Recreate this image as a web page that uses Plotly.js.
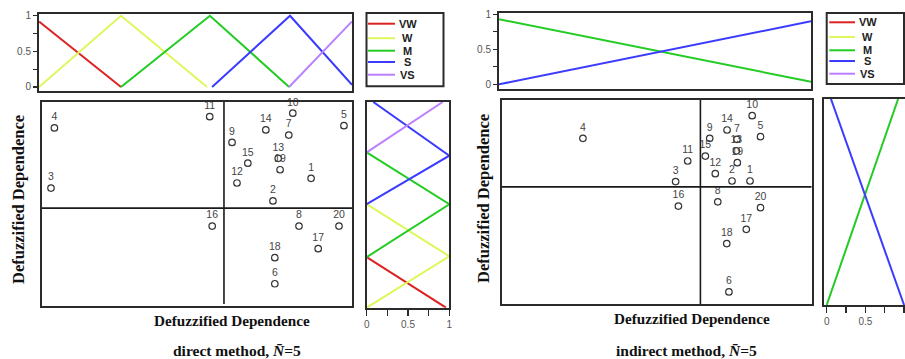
<!DOCTYPE html>
<html>
<head>
<meta charset="utf-8">
<script src="https://cdn.plot.ly/plotly-3.0.1.min.js"></script>
<style>html,body{margin:0;padding:0;background:#fff;}#chart{width:905px;height:359px;}</style>
</head>
<body>
<div id="chart"></div>
<script>
// ---------- DATA ----------
const termNames = ['VW', 'W', 'M', 'S', 'VS'];
const factorLabels = ['1','2','3','4','5','6','7','8','9','10','11','12','13','14','15','16','17','18','19','20'];

// direct method: membership functions along the horizontal (x) axis
const directXPos = [[0, 0.262], [0, 0.262, 0.537], [0.262, 0.546, 0.799], [0.553, 0.802, 1], [0.799, 1]];
const directXMem = [[0.92, 0], [0, 1, 0], [0, 1, 0], [0, 1, 0.03], [0, 0.92]];
// direct method: membership functions along the vertical (y) axis
const directYPos = [[0, 0.246], [0, 0.25, 0.504], [0.246, 0.503, 0.755], [0.504, 0.739, 1], [0.755, 1]];
const directYMem = [[0.96, 0], [0, 1, 0], [0, 1, 0], [0, 1, 0.08], [0, 0.92]];

// indirect method
const indirectXPos = [[], [], [0, 1], [0, 1], []];
const indirectXMem = [[], [], [0.93, 0.037], [0, 0.90], []];
const indirectYPos = [[], [], [0, 1], [1, 0], []];
const indirectYMem = [[], [], [0, 0.923], [0.055, 1], []];

// defuzzified scatter values (factors 1..20)
const directX = [0.868,0.745,0.029,0.040,0.974,0.751,0.796,0.829,0.613,0.809,0.541,0.629,0.762,0.722,0.664,0.549,0.891,0.751,0.768,0.958];
const directY = [0.626,0.515,0.578,0.873,0.884,0.109,0.838,0.392,0.802,0.945,0.928,0.603,0.724,0.863,0.700,0.392,0.281,0.237,0.668,0.392];
const indirectX = [0.801,0.743,0.561,0.262,0.835,0.733,0.759,0.697,0.671,0.808,0.600,0.689,0.757,0.727,0.657,0.570,0.789,0.726,0.760,0.835];
const indirectY = [0.603,0.603,0.600,0.812,0.820,0.059,0.807,0.501,0.812,0.923,0.701,0.639,0.751,0.853,0.725,0.480,0.366,0.296,0.693,0.472];

const directCutX = 0.587, directCutY = 0.480;
const indirectCutX = 0.641, indirectCutY = 0.574;

const memTicks = [0, 0.25, 0.5, 0.75, 1];
const memTickText = ['0', '', '0.5', '', '1'];

// ---------- STYLE / LAYOUT ----------
const termColors = ['#dd2222', '#ddf75c', '#22cc22', '#3b3bff', '#bb80ff'];
const W = 905, H = 359;
const PX = v => v / W;
const PY = v => 1 - v / H;
const dom = (a, b) => [PX(a), Math.min(1, PX(b))];
const vdom = (top, bottom) => [PY(bottom), PY(top)];
const frameCol = '#2b2b2b';
const sans = 'Liberation Sans, Arial, sans-serif';
const serif = 'Liberation Serif, Times New Roman, serif';

const traces = [];
function memTraces(posArr, memArr, xa, ya, vertical) {
  for (let i = 0; i < termNames.length; i++) {
    if (!posArr[i].length) continue;
    traces.push({
      type: 'scatter', mode: 'lines',
      x: vertical ? memArr[i] : posArr[i],
      y: vertical ? posArr[i] : memArr[i],
      xaxis: xa, yaxis: ya, name: termNames[i],
      line: { color: termColors[i], width: 2 },
      showlegend: false, hoverinfo: 'skip', cliponaxis: true
    });
  }
}
memTraces(directXPos, directXMem, 'x', 'y', false);
memTraces(directYPos, directYMem, 'x3', 'y3', true);
memTraces(indirectXPos, indirectXMem, 'x4', 'y4', false);
memTraces(indirectYPos, indirectYMem, 'x6', 'y6', true);

function scatterTrace(xs, ys, xa, ya) {
  traces.push({
    type: 'scatter', mode: 'markers+text',
    x: xs, y: ys, text: factorLabels, textposition: 'top center',
    textfont: { family: sans, size: 10.5, color: '#444' },
    marker: { symbol: 'circle-open', size: 6.5, color: '#333', line: { width: 1.2, color: '#333' } },
    xaxis: xa, yaxis: ya, showlegend: false, cliponaxis: false
  });
}
scatterTrace(directX, directY, 'x2', 'y2');
scatterTrace(indirectX, indirectY, 'x5', 'y5');

const frameAxis = extra => Object.assign({
  showline: true, mirror: true, linecolor: frameCol, linewidth: 2,
  showgrid: false, zeroline: false, showticklabels: false, ticks: '', fixedrange: true
}, extra);

const memYAxis = (domain, range) => frameAxis({
  domain: domain, range: range, tickmode: 'array', tickvals: memTicks, ticktext: memTickText,
  ticks: 'outside', ticklen: 4, tickwidth: 1.2, tickcolor: frameCol, showticklabels: true,
  tickfont: { family: sans, size: 10, color: '#555' }
});
const memXAxis = (domain, range) => frameAxis({
  domain: domain, range: range, tickmode: 'array', tickvals: memTicks, ticktext: memTickText,
  ticks: 'outside', ticklen: 6, tickwidth: 1.5, tickcolor: frameCol, showticklabels: true,
  tickfont: { family: sans, size: 10, color: '#555' }
});

const layout = {
  width: W, height: H,
  margin: { l: 0, r: 0, t: 0, b: 0 },
  paper_bgcolor: '#fff', plot_bgcolor: '#fff',
  showlegend: false,
  font: { family: sans },
  // direct: top membership
  xaxis: frameAxis({ domain: dom(39, 352), range: [0, 1], anchor: 'y' }),
  yaxis: memYAxis(vdom(14, 90.7), [-0.052, 1.024]),
  // direct: scatter
  xaxis2: frameAxis({ domain: dom(42, 352), range: [0, 1], anchor: 'y2' }),
  yaxis2: frameAxis({ domain: vdom(102, 306), range: [0, 1], anchor: 'x2' }),
  // direct: vertical membership
  xaxis3: Object.assign(memXAxis(dom(366.7, 449.3), [0, 1]), { anchor: 'y3' }),
  yaxis3: frameAxis({ domain: vdom(102, 307.7), range: [0, 1], anchor: 'x3' }),
  // indirect: top membership
  xaxis4: frameAxis({ domain: dom(499, 811), range: [0, 1], anchor: 'y4' }),
  yaxis4: Object.assign(memYAxis(vdom(12.7, 89.3), [-0.071, 1.023]), { anchor: 'x4' }),
  // indirect: scatter
  xaxis5: frameAxis({ domain: dom(501.7, 811.7), range: [0, 1], anchor: 'y5' }),
  yaxis5: frameAxis({ domain: vdom(100, 304), range: [0, 1], anchor: 'x5' }),
  // indirect: vertical membership
  xaxis6: Object.assign(memXAxis(dom(824, 906), [-0.035, 1.012]), { anchor: 'y6' }),
  yaxis6: frameAxis({ domain: vdom(99, 305), range: [0, 1], anchor: 'x6' }),
  shapes: [],
  annotations: []
};
layout.yaxis.anchor = 'x';

// quadrant dividers
layout.shapes.push(
  { type: 'line', xref: 'x2', yref: 'y2', x0: directCutX, x1: directCutX, y0: 0.01, y1: 1, line: { color: '#1a1a1a', width: 1.6 } },
  { type: 'line', xref: 'x2', yref: 'y2', x0: 0, x1: 1, y0: directCutY, y1: directCutY, line: { color: '#1a1a1a', width: 1.6 } },
  { type: 'line', xref: 'x5', yref: 'y5', x0: indirectCutX, x1: indirectCutX, y0: 0, y1: 1, line: { color: '#1a1a1a', width: 1.6 } },
  { type: 'line', xref: 'x5', yref: 'y5', x0: 0, x1: 1, y0: indirectCutY, y1: indirectCutY, line: { color: '#1a1a1a', width: 1.6 } }
);

// legend boxes
function legendBox(left, right, top, bottom, lineX0, lineX1, textX, rows) {
  layout.shapes.push({ type: 'rect', xref: 'paper', yref: 'paper',
    x0: PX(left), x1: PX(right), y0: PY(bottom), y1: PY(top),
    line: { color: frameCol, width: 2 }, fillcolor: 'rgba(0,0,0,0)' });
  for (let i = 0; i < termNames.length; i++) {
    layout.shapes.push({ type: 'line', xref: 'paper', yref: 'paper',
      x0: PX(lineX0), x1: PX(lineX1), y0: PY(rows[i]), y1: PY(rows[i]),
      line: { color: termColors[i], width: 2 } });
    layout.annotations.push({ xref: 'paper', yref: 'paper', x: PX(textX), y: PY(rows[i]),
      xanchor: 'center', yanchor: 'middle', showarrow: false, text: '<b>' + termNames[i] + '</b>',
      font: { family: sans, size: 11, color: '#222' } });
  }
}
legendBox(366.5, 443.5, 13, 86.3, 368, 395, 407.5, [23.7, 38.2, 50.7, 62, 74.7]);
legendBox(826.7, 904, 13, 84, 829.3, 855, 867.5, [22.3, 37, 50.3, 61, 73.7]);

// titles
function ann(x, y, text, size, angle) {
  layout.annotations.push({ xref: 'paper', yref: 'paper', x: PX(x), y: PY(y),
    xanchor: 'center', yanchor: 'middle', showarrow: false, text: text, textangle: angle || 0,
    font: { family: serif, size: size, color: '#111' } });
}
ann(18, 200, '<b>Defuzzified Dependence</b>', 16.5, -90);
ann(484, 199, '<b>Defuzzified Dependence</b>', 16.5, -90);
ann(232, 320, '<b>Defuzzified Dependence</b>', 15.2);
ann(692, 318, '<b>Defuzzified Dependence</b>', 15.2);
ann(237, 350, '<b>direct method, <i>N\u0304</i>=5</b>', 15.5);
ann(686, 350, '<b>indirect method, <i>N\u0304</i>=5</b>', 15.5);

Plotly.newPlot('chart', traces, layout, { staticPlot: true, displayModeBar: false });
</script>
</body>
</html>
